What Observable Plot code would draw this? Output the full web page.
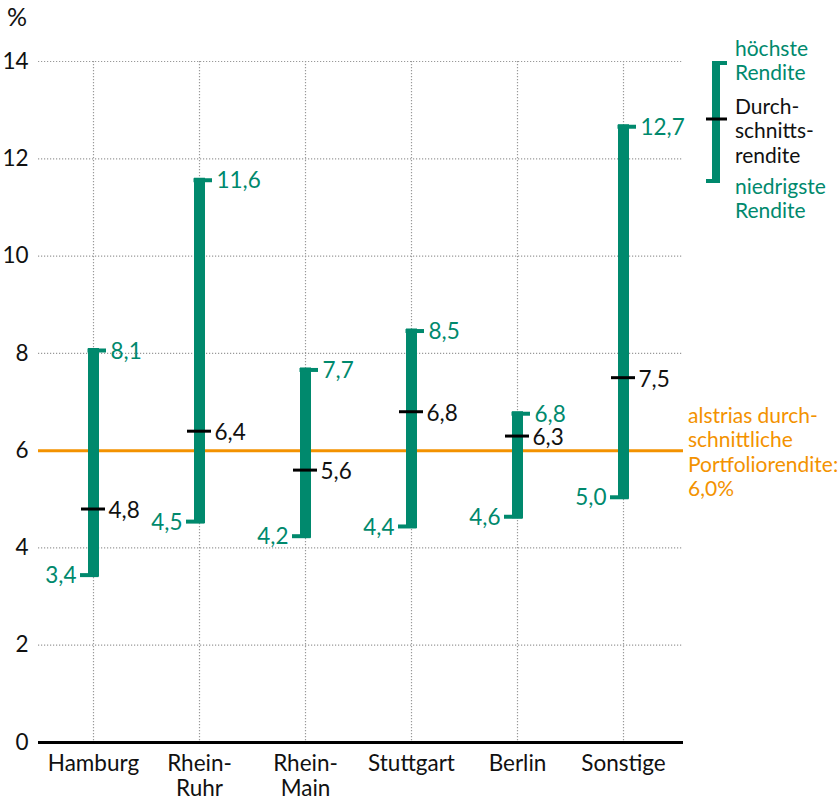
<!DOCTYPE html>
<html><head><meta charset="utf-8">
<script src="https://cdn.jsdelivr.net/npm/d3@7"></script>
<script src="https://cdn.jsdelivr.net/npm/@observablehq/plot@0.6"></script>
<style>
body{margin:0;background:#fff;font-family:Lato,sans-serif;}
#wrap{position:relative;width:839px;height:802px;}
.t{position:absolute;font-size:21px;line-height:24.5px;white-space:nowrap;}
</style></head><body><div id="wrap"></div>
<script>
const cities = ["Hamburg", "Rhein-\nRuhr", "Rhein-\nMain", "Stuttgart", "Berlin", "Sonstige"];
const high = [8.1, 11.6, 7.7, 8.5, 6.8, 12.7];
const mean = [4.8, 6.4, 5.6, 6.8, 6.3, 7.5];
const low = [3.4, 4.5, 4.2, 4.4, 4.6, 5.0];
const yTicks = [0, 2, 4, 6, 8, 10, 12, 14];
const portfolioAvg = 6.0;

const green = "#00896d", orange = "#f39200";
const data = cities.map((c, i) => ({city: c, low: low[i], mean: mean[i], high: high[i]}));
const fmt = v => v.toFixed(1).replace(".", ",");
const grid = {stroke: "#999", strokeDasharray: "1.2 1.8", strokeWidth: 1.2};
const FS = 22.5;

const plot = Plot.plot({
  width: 839, height: 802,
  marginLeft: 38, marginRight: 156, marginTop: 61, marginBottom: 60,
  style: {fontFamily: 'Lato, sans-serif', fontSize: FS + "px", background: "#fff", color: "#111"},
  x: {type: "band", domain: cities, paddingInner: 0.755, paddingOuter: 0.3775, insetLeft: 2, insetRight: 7},
  y: {domain: [0, 14]},
  marks: [
    Plot.ruleY(yTicks.filter(d => d > 0), grid),
    Plot.ruleX(cities, grid),
    Plot.axisY({ticks: yTicks, tickSize: 0, tickPadding: 10, tickFormat: d => d, label: null, fontSize: FS, fill: "#111"}),
    Plot.axisX({tickSize: 0, tickPadding: 11, label: null, fontSize: FS, lineHeight: 1.1, fill: "#111"}),
    Plot.ruleY([portfolioAvg], {stroke: orange, strokeWidth: 3}),
    Plot.ruleX(data, {x: "city", y1: "low", y2: "high", stroke: green, strokeWidth: 11}),
    Plot.tickY(data, {x: "city", y: "high", stroke: green, strokeWidth: 4, insetLeft: 7.5, dy: 2}),
    Plot.tickY(data, {x: "city", y: "low", stroke: green, strokeWidth: 4, insetRight: 7.5, dy: -2}),
    Plot.tickY(data, {x: "city", y: "mean", stroke: "#000", strokeWidth: 3, insetLeft: 1, insetRight: 1}),
    Plot.ruleY([0], {stroke: "#000", strokeWidth: 3}),
    Plot.text(data, {x: "city", y: "high", text: d => fmt(d.high), dx: 17, dy: 3, textAnchor: "start", fill: green, fontSize: FS}),
    Plot.text(data, {x: "city", y: "mean", text: d => fmt(d.mean), dx: 15, dy: 2, textAnchor: "start", fill: "#111", fontSize: FS}),
    Plot.text(data, {x: "city", y: "low", text: d => fmt(d.low), dx: -17, dy: -1, textAnchor: "end", fill: green, fontSize: FS})
  ]
});
const wrap = document.getElementById("wrap");
wrap.appendChild(plot);

function addText(html, left, top, color, size) {
  const d = document.createElement("div");
  d.className = "t";
  d.style.left = left + "px";
  d.style.top = top + "px";
  d.style.color = color;
  if (size) d.style.fontSize = size + "px";
  d.innerHTML = html;
  wrap.appendChild(d);
}
addText("%", 7, 4, "#111", 25);
addText("höchste<br>Rendite", 735, 35.5, green);
addText("Durch-<br>schnitts-<br>rendite", 735, 93.5, "#111");
addText("niedrigste<br>Rendite", 735, 173.5, green);
addText("alstrias durch-<br>schnittliche<br>Portfoliorendite:<br>6,0%", 688, 402.5, orange);

const lg = document.createElementNS("http://www.w3.org/2000/svg", "svg");
lg.setAttribute("width", 40); lg.setAttribute("height", 140);
lg.style.position = "absolute"; lg.style.left = "700px"; lg.style.top = "55px";
lg.innerHTML = `
<line x1="16" x2="16" y1="6" y2="128" stroke="${green}" stroke-width="8"/>
<line x1="12" x2="27" y1="8" y2="8" stroke="${green}" stroke-width="4"/>
<line x1="6" x2="20" y1="126" y2="126" stroke="${green}" stroke-width="4"/>
<line x1="6" x2="27" y1="64" y2="64" stroke="#000" stroke-width="3"/>`;
wrap.appendChild(lg);
</script></body></html>
